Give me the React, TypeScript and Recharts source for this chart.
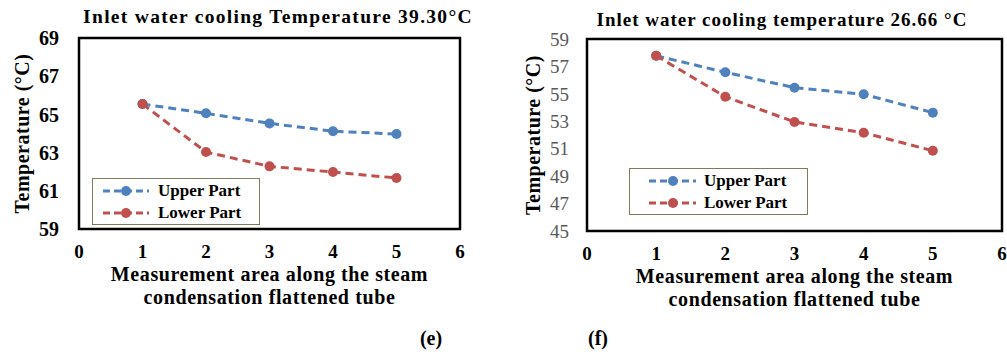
import { LineChart, Line, XAxis, YAxis, ReferenceArea, Legend } from "recharts"

const serif = "'Liberation Serif', 'DejaVu Serif Condensed', 'DejaVu Serif', serif"

// measurement positions along the tube
const areas = [1, 2, 3, 4, 5]
const xTicks = [0, 1, 2, 3, 4, 5, 6]
const seriesNames = ["Upper Part", "Lower Part"]

// (e) inlet cooling water 39.30 °C
const upperE = [65.54, 65.06, 64.53, 64.12, 63.97]
const lowerE = [65.54, 63.03, 62.28, 61.98, 61.67]
const yTicksE = [59, 61, 63, 65, 67, 69]

// (f) inlet cooling water 26.66 °C
const upperF = [57.78, 56.57, 55.45, 54.97, 53.63]
const lowerF = [57.78, 54.79, 52.95, 52.17, 50.85]
const yTicksF = [45, 47, 49, 51, 53, 55, 57, 59]

const BLUE = "#4F81BD"
const RED = "#C0504D"

interface LegendOpts {
  left: number
  top: number
  width: number
  lineFrom: number
  lineTo: number
  dot: number
  textAt: number
}

function LegendBox({ payload, opts }: { payload?: any[]; opts: LegendOpts }) {
  // keep series order (recharts sorts by name otherwise)
  const items = [...(payload || [])].sort((a, b) => seriesNames.indexOf(a.value) - seriesNames.indexOf(b.value))
  return (
    <div
      style={{
        width: opts.width,
        height: 47,
        border: "1.5px solid #7f7b5b",
        background: "#fff",
        boxSizing: "border-box",
        paddingTop: 1,
        fontFamily: serif,
      }}
    >
      {items.map((e) => (
        <div key={e.value} style={{ position: "relative", height: 22 }}>
          <svg width={opts.textAt} height={22} style={{ position: "absolute", left: 0, top: 0 }}>
            <line x1={opts.lineFrom} x2={opts.lineTo} y1={11} y2={11} stroke={e.color} strokeWidth={3} strokeDasharray="7 4" />
            <circle cx={opts.dot} cy={11} r={5} fill={e.color} />
          </svg>
          <span
            style={{
              position: "absolute",
              left: opts.textAt,
              top: 0,
              lineHeight: "22px",
              fontSize: 17,
              fontWeight: 700,
              color: "#000",
              whiteSpace: "nowrap",
            }}
          >
            {e.value}
          </span>
        </div>
      ))}
    </div>
  )
}

interface PanelProps {
  left: number
  width: number
  margin: { top: number; right: number; bottom: number; left: number }
  upper: number[]
  lower: number[]
  yTicks: number[]
  yTickStyle: any
  yTickMargin: number
  yTitleShift: number
  legend: LegendOpts
}

function Panel({ left, width, margin, upper, lower, yTicks, yTickStyle, yTickMargin, yTitleShift, legend }: PanelProps) {
  const data = areas.map((a, i) => ({ area: a, upper: upper[i], lower: lower[i] }))
  const yMin = yTicks[0]
  const yMax = yTicks[yTicks.length - 1]

  const xTitle = (props: any) => {
    const { x, y, width: w } = props.viewBox
    const cx = x + w / 2
    return (
      <text
        x={cx}
        y={y}
        textAnchor="middle"
        fontFamily={serif}
        fontSize={20}
        fontWeight={700}
        fill="#000"
        style={{ letterSpacing: "0.6px" }}
      >
        <tspan x={cx} dy={52}>Measurement area along the steam</tspan>
        <tspan x={cx} dy={23}>condensation flattened tube</tspan>
      </text>
    )
  }

  const yTitle = (props: any) => {
    const { x, y, height } = props.viewBox
    const cx = x + yTitleShift
    const cy = y + height / 2
    return (
      <text
        x={cx}
        y={cy}
        transform={`rotate(-90 ${cx} ${cy})`}
        textAnchor="middle"
        dominantBaseline="central"
        fontFamily={serif}
        fontSize={20}
        fontWeight={700}
        fill="#000"
        style={{ letterSpacing: "0.5px" }}
      >
        Temperature (°C)
      </text>
    )
  }

  return (
    <div style={{ position: "absolute", left, top: 0 }}>
      <LineChart width={width} height={357} data={data} margin={margin}>
        <XAxis
          dataKey="area"
          type="number"
          domain={[0, 6]}
          ticks={xTicks}
          axisLine={false}
          tickLine={false}
          tickMargin={10}
          height={30}
          tick={{ fill: "#000", fontSize: 19, fontWeight: 700, fontFamily: serif }}
          label={{ content: xTitle }}
        />
        <YAxis
          type="number"
          domain={[yMin, yMax]}
          ticks={yTicks}
          axisLine={false}
          tickLine={false}
          tickMargin={yTickMargin}
          width={60}
          tick={yTickStyle}
          label={{ content: yTitle }}
        />
        <ReferenceArea x1={0} x2={6} y1={yMin} y2={yMax} fill="none" stroke="#000" strokeWidth={2.5} />
        <Legend
          layout="vertical"
          align="center"
          verticalAlign="middle"
          wrapperStyle={{ left: legend.left, top: legend.top, width: legend.width }}
          content={(p: any) => <LegendBox payload={p.payload} opts={legend} />}
        />
        <Line
          type="linear"
          dataKey="upper"
          name={seriesNames[0]}
          stroke={BLUE}
          strokeWidth={3}
          strokeDasharray="8 5"
          dot={{ r: 5, fill: BLUE, stroke: BLUE, strokeWidth: 0 }}
          isAnimationActive={false}
        />
        <Line
          type="linear"
          dataKey="lower"
          name={seriesNames[1]}
          stroke={RED}
          strokeWidth={3}
          strokeDasharray="8 5"
          dot={{ r: 5, fill: RED, stroke: RED, strokeWidth: 0 }}
          isAnimationActive={false}
        />
      </LineChart>
    </div>
  )
}

const titleStyle: any = {
  position: "absolute",
  width: 440,
  textAlign: "center",
  fontFamily: serif,
  fontSize: 19,
  fontWeight: 700,
  letterSpacing: "1px",
  lineHeight: "20px",
  color: "#000",
  whiteSpace: "nowrap",
}

const captionStyle: any = {
  position: "absolute",
  width: 40,
  textAlign: "center",
  fontFamily: serif,
  fontSize: 20,
  fontWeight: 700,
  lineHeight: "20px",
  top: 328,
  color: "#000",
}

export default function App() {
  return (
    <div style={{ position: "absolute", left: 0, top: 0, width: 1007, height: 357, background: "#fff", overflow: "hidden" }}>
      <div style={{ ...titleStyle, left: 58, top: 7, fontSize: 19.5, letterSpacing: "1.3px" }}>
        Inlet water cooling Temperature 39.30°C
      </div>
      <div style={{ ...titleStyle, left: 562, top: 10 }}>Inlet water cooling temperature 26.66 °C</div>

      <Panel
        left={0}
        width={500}
        margin={{ top: 38, right: 40, bottom: 98, left: 19 }}
        upper={upperE}
        lower={lowerE}
        yTicks={yTicksE}
        yTickStyle={{ fill: "#000", fontSize: 20, fontWeight: 700, fontFamily: serif }}
        yTickMargin={14}
        yTitleShift={3}
        legend={{ left: 92, top: 178, width: 168, lineFrom: 10, lineTo: 56, dot: 33, textAt: 65 }}
      />
      <Panel
        left={500}
        width={507}
        margin={{ top: 39, right: 5, bottom: 96, left: 27 }}
        upper={upperF}
        lower={lowerF}
        yTicks={yTicksF}
        yTickStyle={{ fill: "#595959", fontSize: 19, fontWeight: 400, fontFamily: serif }}
        yTickMargin={12}
        yTitleShift={6}
        legend={{ left: 129, top: 168, width: 179, lineFrom: 19, lineTo: 66, dot: 43, textAt: 74 }}
      />

      <div style={{ ...captionStyle, left: 411 }}>(e)</div>
      <div style={{ ...captionStyle, left: 578 }}>(f)</div>
    </div>
  )
}
